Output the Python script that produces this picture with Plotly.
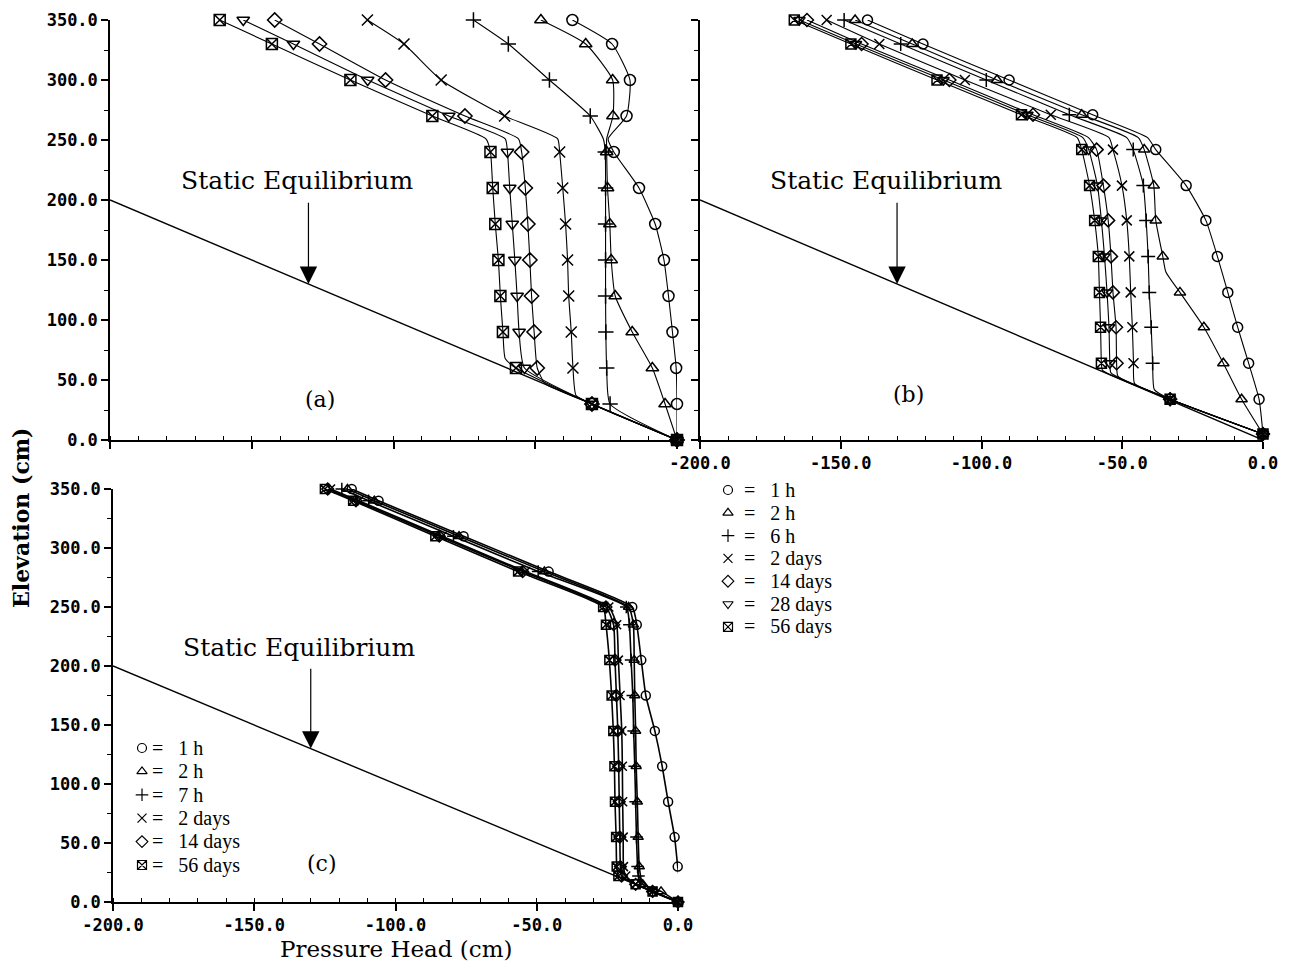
import plotly.graph_objects as go

W, H = 1293, 962
OFF = 8  # the page body adds an 8 px margin; compensate

# ---------------- shared ----------------
X_TICKS = [-200, -150, -100, -50, 0]
X_LABELS = ["-200.0", "-150.0", "-100.0", "-50.0", "0.0"]
Y_TICKS = [0, 50, 100, 150, 200, 250, 300, 350]
Y_LABELS = ["0.0", "50.0", "100.0", "150.0", "200.0", "250.0", "300.0", "350.0"]

STATIC_H = [-200, 0]
STATIC_Z = [200, 0]

NAMES_AB = ["1 h", "2 h", "6 h", "2 days", "14 days", "28 days", "56 days"]
NAMES_C = ["1 h", "2 h", "7 h", "2 days", "14 days", "56 days"]
SYMBOLS = {"1 h": "circle-open", "2 h": "triangle-up-open", "6 h": "cross-thin-open",
           "7 h": "cross-thin-open", "2 days": "x-thin-open", "14 days": "diamond-open",
           "28 days": "triangle-down-open", "56 days": "square-x-open"}

# ---------------- panel (a) ----------------
A_MARK_Z = [350, 330, 300, 270, 240, 210, 180, 150, 120, 90, 60, 30, 0]
a_1h_h = [-36.9, -22.9, -16.6, -17.8, -24.3, -22.3, -13.4, -7.7, -4.6, -3.0, -1.6, -0.3, 0.0, 0.0]
a_1h_z = [350, 330, 300, 270, 251, 240, 210, 180, 150, 120, 90, 60, 30, 0]
a_2h_h = [-48.0, -32.2, -22.7, -22.6, -24.8, -24.8, -24.5, -23.7, -23.2, -21.8, -15.8, -8.7, -4.2, 0.0]
a_2h_z = [350, 330, 300, 270, 251, 240, 210, 180, 150, 120, 90, 60, 30, 0]
a_6h_h = [-71.8, -59.5, -45.0, -30.6, -26.0, -25.3, -25.2, -25.2, -25.2, -25.2, -25.1, -24.8, -23.6, 0.0]
a_6h_z = [350, 330, 300, 270, 251, 240, 210, 180, 150, 120, 90, 60, 30, 0]
a_2d_h = [-109.2, -96.3, -83.2, -60.8, -42.1, -41.4, -40.3, -39.3, -38.6, -38.2, -37.3, -36.7, -35.6, -30.0, 0.0]
a_2d_z = [350, 330, 300, 270, 251, 240, 210, 180, 150, 120, 90, 60, 37, 30, 0]
a_14d_h = [-141.9, -126.1, -102.8, -74.8, -55.9, -54.8, -53.5, -52.6, -51.9, -51.3, -50.4, -49.3, -46.5, -30.0, 0.0]
a_14d_z = [350, 330, 300, 270, 251, 240, 210, 180, 150, 120, 90, 60, 47, 30, 0]
a_28d_h = [-153.0, -135.3, -109.1, -80.5, -60.6, -59.8, -59.0, -58.1, -57.2, -56.4, -55.7, -53.8, -30.0, 0.0]
a_28d_z = [350, 330, 300, 270, 251, 240, 210, 180, 150, 120, 90, 60, 30, 0]
a_56d_h = [-161.3, -142.9, -115.2, -86.3, -67.4, -65.8, -65.0, -64.1, -63.0, -62.3, -61.4, -60.6, -56.8, -30.0, 0.0]
a_56d_z = [350, 330, 300, 270, 251, 240, 210, 180, 150, 120, 90, 68, 60, 30, 0]

# ---------------- panel (b) ----------------
B_MARK_Z = [350, 330, 300, 271, 242, 212, 183, 153, 123, 94, 64, 34, 5]
b_1h_h = [-140.5, -120.8, -90.2, -60.5, -41.0, -38.1, -27.3, -20.3, -16.2, -12.5, -9.0, -5.1, -1.4, 0.0]
b_1h_z = [350, 330, 300, 271, 252, 242, 212, 183, 153, 123, 94, 64, 34, 5]
b_2h_h = [-144.9, -124.6, -94.5, -64.4, -44.3, -42.2, -38.8, -38.1, -35.6, -34.5, -29.5, -21.0, -14.1, -7.6, 0.0]
b_2h_z = [350, 330, 300, 271, 252, 242, 212, 183, 153, 140, 123, 94, 64, 34, 5]
b_6h_h = [-148.8, -128.7, -98.3, -68.8, -48.4, -46.1, -42.5, -41.5, -40.8, -40.4, -39.7, -39.2, -38.6, -33.0, 0.0]
b_6h_z = [350, 330, 300, 271, 252, 242, 212, 183, 153, 123, 94, 64, 42, 34, 5]
b_2d_h = [-155.0, -136.3, -105.9, -75.4, -54.7, -53.3, -50.1, -48.4, -47.5, -47.0, -46.4, -46.0, -45.6, -33.0, 0.0]
b_2d_z = [350, 330, 300, 271, 252, 242, 212, 183, 153, 123, 94, 64, 47, 34, 5]
b_14d_h = [-162.0, -142.6, -111.4, -81.7, -62.0, -59.1, -56.7, -55.0, -54.0, -53.3, -52.2, -52.0, -51.5, -33.0, 0.0]
b_14d_z = [350, 330, 300, 271, 252, 242, 212, 183, 153, 123, 94, 64, 53, 34, 5]
b_28d_h = [-164.7, -144.6, -113.5, -83.7, -64.0, -61.9, -58.8, -57.4, -56.3, -55.4, -54.7, -54.4, -54.0, -33.0, 0.0]
b_28d_z = [350, 330, 300, 271, 252, 242, 212, 183, 153, 123, 94, 64, 56, 34, 5]
b_56d_h = [-166.5, -146.4, -115.8, -85.8, -66.0, -64.4, -61.6, -59.8, -58.5, -58.1, -57.7, -57.4, -57.0, -33.0, 0.0]
b_56d_z = [350, 330, 300, 271, 252, 242, 212, 183, 153, 123, 94, 64, 58, 34, 5]

# ---------------- panel (c) ----------------
C_MARK_Z = [350, 340, 310, 280, 250, 235, 205, 175, 145, 115, 85, 55, 30, 22, 15, 9, 0]
c_1h_h = [-115.5, -106.0, -75.9, -45.8, -16.2, -14.6, -13.0, -11.4, -8.2, -5.6, -3.5, -1.2, -0.1, 0.4, 1.1, 1.9, 0.0]
c_1h_z = [350, 340, 310, 280, 250, 235, 205, 175, 145, 115, 85, 55, 30, 22, 15, 9, 0]
c_2h_h = [-117.0, -107.5, -77.5, -47.3, -17.5, -15.8, -15.5, -15.3, -15.0, -14.8, -14.4, -14.1, -13.7, -12.5, -6.0, 0.0]
c_2h_z = [350, 340, 310, 280, 250, 235, 205, 175, 145, 115, 85, 55, 30, 15, 9, 0]
c_7h_h = [-119.0, -109.5, -79.5, -49.5, -18.3, -17.2, -16.6, -16.0, -15.7, -15.3, -15.0, -14.7, -14.3, -14.0, -9.0, 0.0]
c_7h_z = [350, 340, 310, 280, 250, 235, 205, 175, 145, 115, 85, 55, 30, 22, 9, 0]
c_2d_h = [-123.0, -113.0, -83.5, -54.0, -24.5, -21.7, -21.1, -20.5, -19.9, -19.7, -19.6, -19.4, -19.3, -18.5, -15.0, -9.0, 0.0]
c_2d_z = [350, 340, 310, 280, 250, 235, 205, 175, 145, 115, 85, 55, 30, 22, 15, 9, 0]
c_14d_h = [-124.0, -114.0, -84.5, -55.0, -25.5, -22.8, -22.3, -21.8, -21.3, -21.0, -20.8, -20.6, -20.4, -20.0, -15.0, -9.0, 0.0]
c_14d_z = [350, 340, 310, 280, 250, 235, 205, 175, 145, 115, 85, 55, 30, 22, 15, 9, 0]
c_56d_h = [-125.0, -115.0, -85.9, -56.6, -26.5, -25.5, -24.3, -23.5, -22.9, -22.5, -22.3, -21.9, -21.7, -21.1, -15.0, -9.0, 0.0]
c_56d_z = [350, 340, 310, 280, 250, 235, 205, 175, 145, 115, 85, 55, 30, 22, 15, 9, 0]

PANEL_A = [("1 h", a_1h_h, a_1h_z), ("2 h", a_2h_h, a_2h_z), ("6 h", a_6h_h, a_6h_z),
           ("2 days", a_2d_h, a_2d_z), ("14 days", a_14d_h, a_14d_z),
           ("28 days", a_28d_h, a_28d_z), ("56 days", a_56d_h, a_56d_z)]
PANEL_B = [("1 h", b_1h_h, b_1h_z), ("2 h", b_2h_h, b_2h_z), ("6 h", b_6h_h, b_6h_z),
           ("2 days", b_2d_h, b_2d_z), ("14 days", b_14d_h, b_14d_z),
           ("28 days", b_28d_h, b_28d_z), ("56 days", b_56d_h, b_56d_z)]
PANEL_C = [("1 h", c_1h_h, c_1h_z), ("2 h", c_2h_h, c_2h_z), ("7 h", c_7h_h, c_7h_z),
           ("2 days", c_2d_h, c_2d_z), ("14 days", c_14d_h, c_14d_z), ("56 days", c_56d_h, c_56d_z)]

fig = go.Figure()


def add_panel(series, marks, xa, ya, msize, lw):
    fig.add_trace(go.Scatter(x=STATIC_H, y=STATIC_Z, mode="lines", xaxis=xa, yaxis=ya,
                             line=dict(color="black", width=1.4), hoverinfo="skip",
                             cliponaxis=False))
    for name, h, z in series:
        fig.add_trace(go.Scatter(x=h, y=z, mode="lines", xaxis=xa, yaxis=ya,
                                 line=dict(color="black", width=lw, shape="spline", smoothing=0.5),
                                 hoverinfo="skip", cliponaxis=False))
        mh = [hh for hh, zz in zip(h, z) if zz in marks]
        mz = [zz for hh, zz in zip(h, z) if zz in marks]
        fig.add_trace(go.Scatter(x=mh, y=mz, mode="markers", xaxis=xa, yaxis=ya, name=name,
                                 marker=dict(symbol=SYMBOLS[name], size=msize, color="black",
                                             line=dict(color="black", width=1.5)),
                                 cliponaxis=False))


add_panel(PANEL_A, A_MARK_Z, "x", "y", 11, 1.1)
add_panel(PANEL_B, B_MARK_Z, "x2", "y2", 10, 1.1)
add_panel(PANEL_C, C_MARK_Z, "x3", "y3", 9, 1.6)

# legend keys
for i, name in enumerate(NAMES_AB):
    fig.add_trace(go.Scatter(x=[0], y=[i], mode="markers", xaxis="x4", yaxis="y4",
                             marker=dict(symbol=SYMBOLS[name], size=9, color="black",
                                         line=dict(color="black", width=1.2))))
for i, name in enumerate(NAMES_C):
    fig.add_trace(go.Scatter(x=[0], y=[i], mode="markers", xaxis="x5", yaxis="y5",
                             marker=dict(symbol=SYMBOLS[name], size=9, color="black",
                                         line=dict(color="black", width=1.2))))

TICKFONT = dict(family="DejaVu Sans Mono", size=17, color="black", weight="bold")


def xaxis(dom, labels, anchor):
    return dict(domain=dom, range=[-200, 0], anchor=anchor, showline=True, linecolor="black",
                linewidth=1.5, ticks="outside", ticklen=7, tickwidth=1.5, tickcolor="black",
                tickmode="array", tickvals=X_TICKS, ticktext=X_LABELS, showticklabels=labels,
                tickfont=TICKFONT, showgrid=False, zeroline=False, fixedrange=True,
                automargin=False,
                minor=dict(tickmode="linear", tick0=0, dtick=10, ticks="inside", ticklen=4,
                           tickwidth=1, tickcolor="black"))


def yaxis(dom, labels, anchor):
    return dict(domain=dom, range=[0, 350], anchor=anchor, showline=True, linecolor="black",
                linewidth=1.5, ticks="outside", ticklen=7, tickwidth=1.5, tickcolor="black",
                tickmode="array", tickvals=Y_TICKS, ticktext=Y_LABELS, showticklabels=labels,
                tickfont=TICKFONT, showgrid=False, zeroline=False, fixedrange=True,
                automargin=False,
                minor=dict(tickmode="linear", tick0=0, dtick=25, ticks="outside", ticklen=4,
                           tickwidth=1, tickcolor="black"))


def px_x(a, b):
    return [(a - OFF) / W, (b - OFF) / W]


def px_y(top, bottom):
    return [1 - (bottom - OFF) / H, 1 - (top - OFF) / H]


def pp(x, y):
    return (x - OFF) / W, 1 - (y - OFF) / H


hidden = dict(visible=False, fixedrange=True)
fig.update_layout(
    width=W, height=H, margin=dict(l=0, r=0, t=0, b=0, autoexpand=False),
    paper_bgcolor="white", plot_bgcolor="rgba(0,0,0,0)", showlegend=False,
    xaxis=xaxis(px_x(110, 677), False, "y"),
    yaxis=yaxis(px_y(20, 440), True, "x"),
    xaxis2=xaxis(px_x(700, 1263), True, "y2"),
    yaxis2=yaxis(px_y(20, 440), False, "x2"),
    xaxis3=xaxis(px_x(113, 678), True, "y3"),
    yaxis3=yaxis(px_y(489, 902), True, "x3"),
    xaxis4=dict(domain=px_x(718, 738), range=[-1, 1], anchor="y4", **hidden),
    yaxis4=dict(domain=px_y(478.6, 638.2), range=[6.5, -0.5], anchor="x4", **hidden),
    xaxis5=dict(domain=px_x(132, 152), range=[-1, 1], anchor="y5", **hidden),
    yaxis5=dict(domain=px_y(736.3, 876.7), range=[5.5, -0.5], anchor="x5", **hidden),
)

SERIF = "DejaVu Serif"
ann = []
for xr, yr, lab, ly in [("x", "y", "(a)", 34), ("x2", "y2", "(b)", 38), ("x3", "y3", "(c)", 33)]:
    ann.append(dict(x=-134, y=216, xref=xr, yref=yr, text="Static Equilibrium", showarrow=False,
                    xanchor="center", yanchor="middle",
                    font=dict(family=SERIF, size=25, color="black")))
    ann.append(dict(x=-130, y=130, ax=-130, ay=199, xref=xr, yref=yr, axref=xr, ayref=yr,
                    text="", showarrow=True, arrowhead=2, arrowsize=2.9, arrowwidth=1.2,
                    arrowcolor="black", standoff=0))
    ann.append(dict(x=-126, y=ly, xref=xr, yref=yr, text=lab, showarrow=False,
                    xanchor="center", yanchor="middle",
                    font=dict(family=SERIF, size=22, color="black")))

LEG_FONT = dict(family="Liberation Serif", size=20, color="black")
for i, name in enumerate(NAMES_AB):
    ann.append(dict(x=0, y=i, xref="x4", yref="y4", xanchor="left", yanchor="middle", xshift=14,
                    text="=\u00a0\u00a0\u00a0" + name, showarrow=False, font=LEG_FONT))
for i, name in enumerate(NAMES_C):
    ann.append(dict(x=0, y=i, xref="x5", yref="y5", xanchor="left", yanchor="middle", xshift=8,
                    text="=\u00a0\u00a0\u00a0" + name, showarrow=False, font=LEG_FONT))

ex, ey = pp(21, 518)
ann.append(dict(x=ex, y=ey, xref="paper", yref="paper", text="Elevation (cm)",
                xanchor="center", yanchor="middle", textangle=-90, showarrow=False,
                font=dict(family=SERIF, size=22, color="black", weight="bold")))
px_, py_ = pp(396, 949)
ann.append(dict(x=px_, y=py_, xref="paper", yref="paper", text="Pressure Head (cm)",
                xanchor="center", yanchor="middle", showarrow=False,
                font=dict(family=SERIF, size=23, color="black")))

fig.update_layout(annotations=ann)
fig.write_html("out.html")
